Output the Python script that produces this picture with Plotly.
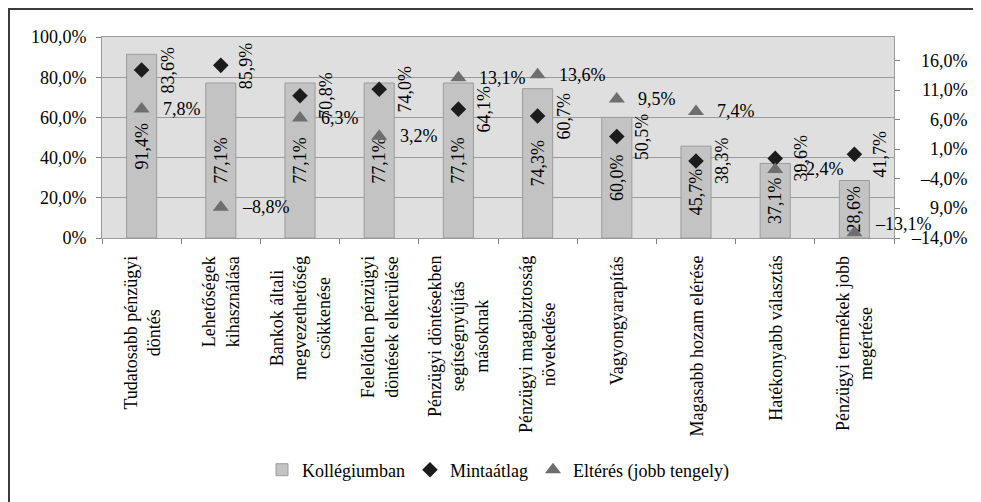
import plotly.graph_objects as go

categories = ["Tudatosabb pénzügyi döntés", "Lehetőségek kihasználása",
              "Bankok általi megvezethetőség csökkenése", "Felelőtlen pénzügyi döntések elkerülése",
              "Pénzügyi döntésekben segítségnyújtás másoknak", "Pénzügyi magabiztosság növekedése",
              "Vagyongyarapítás", "Magasabb hozam elérése", "Hatékonyabb választás",
              "Pénzügyi termékek jobb megértése"]
category_labels = ["Tudatosabb pénzügyi<br>döntés", "Lehetőségek<br>kihasználása",
                   "Bankok általi<br>megvezethetőség<br>csökkenése", "Felelőtlen pénzügyi<br>döntések elkerülése",
                   "Pénzügyi döntésekben<br>segítségnyújtás<br>másoknak", "Pénzügyi magabiztosság<br>növekedése",
                   "Vagyongyarapítás", "Magasabb hozam elérése", "Hatékonyabb választás",
                   "Pénzügyi termékek jobb<br>megértése"]
kollegiumban = [91.4, 77.1, 77.1, 77.1, 77.1, 74.3, 60.0, 45.7, 37.1, 28.6]
mintaatlag = [83.6, 85.9, 70.8, 74.0, 64.1, 60.7, 50.5, 38.3, 39.6, 41.7]
elteres = [7.8, -8.8, 6.3, 3.2, 13.1, 13.6, 9.5, 7.4, -2.4, -13.1]
left_ticks = [0, 20, 40, 60, 80, 100]
left_ticktext = ["0%", "20,0%", "40,0%", "60,0%", "80,0%", "100,0%"]
right_ticks = [-14, -9, -4, 1, 6, 11, 16]
right_ticktext = ["–14,0%", "9,0%", "–4,0%", "1,0%", "6,0%", "11,0%", "16,0%"]
series_names = ["Kollégiumban", "Mintaátlag", "Eltérés (jobb tengely)"]


def fmt(v):
    return f"{v:.1f}".replace(".", ",").replace("-", "–") + "%"


FONT = "Liberation Serif"
FS = 18
OFF = 8  # page body margin
W, H = 981 - OFF, 502 - OFF
L, T = 102 - OFF, 37 - OFF
PLOT_R, PLOT_B = 894 - OFF, 238 - OFF
R, B = W - PLOT_R, H - PLOT_B
PW, PH = PLOT_R - L, PLOT_B - T
Y2_MIN, Y2_MAX = -14, 20


def px_x(p):
    return (p - L) / PW


def px_y(p):
    return (PLOT_B - p) / PH


def clamp_shift(v):
    # keep a horizontal label inside the plot area (like the original chart does)
    ypx = PLOT_B - (v - Y2_MIN) / (Y2_MAX - Y2_MIN) * PH
    over = ypx + 11 - (PLOT_B - 3)
    return over if over > 0 else 0


fig = go.Figure()
fig.add_trace(go.Bar(
    x=categories, y=kollegiumban, name=series_names[0],
    marker=dict(color="#c3c3c3", line=dict(color="#9c9c9c", width=1)),
    width=0.38,
    text=[fmt(v) for v in kollegiumban], textposition="inside",
    insidetextanchor="middle", textangle=-90, constraintext="none",
    textfont=dict(family=FONT, size=FS, color="black"),
))
fig.add_trace(go.Scatter(
    x=categories, y=mintaatlag, name=series_names[1], mode="markers",
    marker=dict(symbol="diamond", size=12, color="#1c1c1c"),
))
fig.add_trace(go.Scatter(
    x=categories, y=elteres, name=series_names[2], mode="markers", yaxis="y2",
    marker=dict(symbol="triangle-up", size=14, color="#6e6e6e"),
))

ann = []
for c, lab in zip(categories, category_labels):
    ann.append(dict(x=c, y=0, xref="x", yref="paper", text=lab, showarrow=False,
                    textangle=-90, align="center", xanchor="center", yanchor="top",
                    yshift=-16, font=dict(family=FONT, size=FS, color="black")))
for c, v in zip(categories, mintaatlag):
    ann.append(dict(x=c, y=v, xref="x", yref="y", text=fmt(v), showarrow=False,
                    textangle=-90, xanchor="center", yanchor="middle", xshift=26,
                    font=dict(family=FONT, size=FS, color="black")))
for c, v in zip(categories, elteres):
    ann.append(dict(x=c, y=v, xref="x", yref="y2", text=fmt(v), showarrow=False,
                    xanchor="left", yanchor="middle", xshift=19, yshift=clamp_shift(v),
                    font=dict(family=FONT, size=FS, color="black")))
for t, tt in zip(right_ticks, right_ticktext):
    ann.append(dict(x=1, y=t, xref="paper", yref="y2", text=tt, showarrow=False,
                    xanchor="right", yanchor="middle", xshift=(970 - OFF) - PLOT_R,
                    font=dict(family=FONT, size=FS, color="black")))

GRID = "#9a9a9a"
fig.update_layout(
    width=W, height=H,
    margin=dict(l=L, r=R, t=T, b=B, autoexpand=False),
    paper_bgcolor="white", plot_bgcolor="#dfdfdf",
    font=dict(family=FONT, size=FS, color="black"),
    barmode="overlay",
    xaxis=dict(type="category", range=[-0.5, 9.5], showticklabels=False,
               ticks="outside", tickson="boundaries", ticklen=5, tickcolor="#808080",
               showline=True, linecolor=GRID, mirror=True, showgrid=False),
    yaxis=dict(range=[0, 100], tickvals=left_ticks, ticktext=left_ticktext,
               ticks="outside", ticklen=5, tickcolor="#808080",
               showgrid=True, gridcolor=GRID, gridwidth=1,
               showline=True, linecolor=GRID, mirror=True,
               tickfont=dict(family=FONT, size=FS, color="black"), zeroline=False,
               ticklabelstandoff=6),
    yaxis2=dict(range=[Y2_MIN, Y2_MAX], overlaying="y", side="right", tickvals=right_ticks,
                showticklabels=False, ticks="outside", ticklen=5, tickcolor="#808080",
                showgrid=False, zeroline=False, showline=True, linecolor=GRID),
    legend=dict(orientation="h", x=0.5, xanchor="center", y=px_y(470 - OFF), yanchor="middle",
                font=dict(family=FONT, size=FS, color="black"), bgcolor="rgba(0,0,0,0)",
                itemwidth=30),
    annotations=ann,
    shapes=[
        dict(type="line", xref="paper", yref="paper", x0=px_x(1), x1=px_x(1),
             y0=px_y(H), y1=px_y(1), line=dict(color="#3a3a3a", width=2)),
        dict(type="line", xref="paper", yref="paper", x0=px_x(0), x1=px_x(W),
             y0=px_y(1), y1=px_y(1), line=dict(color="#3a3a3a", width=2)),
    ],
    showlegend=True,
)

fig.write_html(
    "out.html",
    post_script="document.documentElement.style.overflow='hidden';"
                "document.body.style.overflow='hidden';",
)
